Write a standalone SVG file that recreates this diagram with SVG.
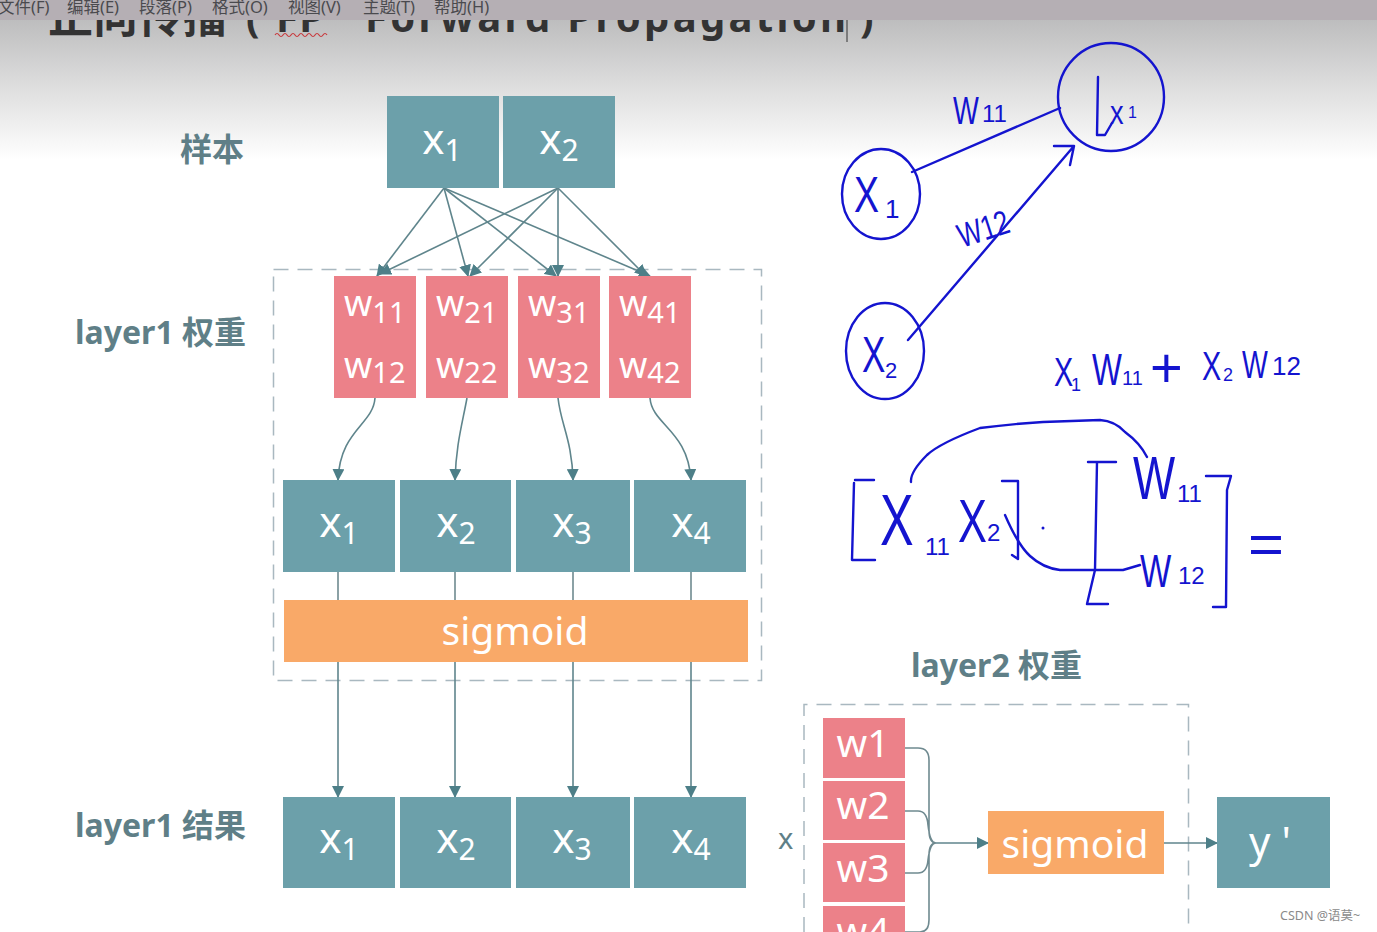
<svg xmlns="http://www.w3.org/2000/svg" width="1377" height="932" viewBox="0 0 1377 932">
<style>
text{font-family:"Noto Sans","Noto Sans CJK SC",sans-serif}
.t{fill:#6ca0aa}.p{fill:#ec8189}.o{fill:#f9a968}
.w{fill:#fff;text-anchor:middle;font-size:42px}
.w3{fill:#fff;text-anchor:middle;font-size:39px}
.w2{fill:#fff;font-size:36px}
.s{font-size:29px}
.s3{font-size:30px}
.lab{fill:#5f7f87;font-weight:700;font-size:32px}
.dash{fill:none;stroke:#a9b8c0;stroke-width:1.5;stroke-dasharray:15 9}
.c{fill:none;stroke:#6f8a90;stroke-width:1.6}
.c2{fill:none;stroke:#5f858c;stroke-width:1.6;marker-end:url(#a)}
.ink{fill:none;stroke:#1414cf;stroke-width:2.4;stroke-linecap:round;stroke-linejoin:round}
.h{fill:#1414cf;font-family:"Liberation Sans",sans-serif}
.menu{fill:#4a4a4e;font-size:16.500px}
.ti{fill:#333;font-weight:700}
</style>
<defs>
<linearGradient id="bg" x1="0" y1="0" x2="0" y2="1"><stop offset="0" stop-color="#bdbdbe"/><stop offset="0.45" stop-color="#dcdcdc"/><stop offset="1" stop-color="#fff"/></linearGradient>
<marker id="a" markerWidth="13" markerHeight="12" refX="11" refY="6" orient="auto" markerUnits="userSpaceOnUse"><path d="M0 0L12 6L0 12Z" fill="#4d7f88"/></marker>
</defs>
<rect width="1377" height="932" fill="#fff"/>
<rect y="20" width="1377" height="140" fill="url(#bg)"/>
<g id="title">
<text class="ti" x="48" y="33" font-size="45">正向传播</text>
<text class="ti" x="246" y="32" font-size="40">(</text>
<text class="ti" x="276" y="32" font-size="40" textLength="48">FP</text>
<text class="ti" x="365" y="32" font-size="40" textLength="481">Forward Propagation</text>
<text class="ti" x="860" y="32" font-size="40">)</text>
<path d="M275 35q2-3 4 0t4 0t4 0t4 0t4 0t4 0t4 0t4 0t4 0t4 0t4 0t4 0t4 0" fill="none" stroke="#c8383c" stroke-width="1.2"/>
<path d="M847 18V42" stroke="#333" stroke-width="1"/>
</g>
<g id="menubar">
<rect width="1377" height="20" fill="#b5afb4"/>
<text class="menu" x="-2" y="13">文件(F)</text><text class="menu" x="67" y="13">编辑(E)</text><text class="menu" x="139" y="13">段落(P)</text><text class="menu" x="212" y="13">格式(O)</text><text class="menu" x="288" y="13">视图(V)</text><text class="menu" x="363" y="13">主题(T)</text><text class="menu" x="434" y="13">帮助(H)</text>
</g>
<text class="lab" x="180" y="161">样本</text>
<text class="lab" x="75" y="344">layer1 权重</text>
<text class="lab" x="75" y="837">layer1 结果</text>
<text class="lab" x="911" y="677">layer2 权重</text>
<text x="778" y="849" font-size="29" fill="#5f7f87">x</text>
<rect class="dash" x="273.500" y="269.500" width="488" height="411"/>
<path class="dash" d="M804 932V704.500H1188.500V932"/>
<g id="connectors">
<path class="c2" d="M444 188L377 276"/><path class="c2" d="M444 188L468 276"/><path class="c2" d="M444 188L556 276"/><path class="c2" d="M444 188L650 276"/>
<path class="c2" d="M558 188L380 274"/><path class="c2" d="M558 188L470 276"/><path class="c2" d="M558 188V276"/><path class="c2" d="M558 188L646 276"/>
<path class="c2" d="M375 398C373 425 340 430 338 480"/><path class="c2" d="M467 398C462 425 456 445 455 480"/><path class="c2" d="M558 398C561 425 572 440 573 480"/><path class="c2" d="M650 398C652 425 688 430 691 480"/>
<path class="c" d="M338 572V600M455 572V600M573 572V600M691 572V600"/>
<path class="c2" d="M338 662V797"/><path class="c2" d="M455 662V797"/><path class="c2" d="M573 662V797"/><path class="c2" d="M691 662V797"/>
<path class="c" d="M905 748H918Q929 748 929 760V830Q929 843 936 843M905 811H918Q927 811 928 825Q930 843 936 843M905 873H918Q927 873 928 860Q930 843 936 843M905 932H920Q929 932 929 920V855Q929 843 936 843"/>
<path class="c2" d="M936 843H988"/><path class="c2" d="M1164 843H1217"/>
</g>
<g id="n-x1"><rect class="t" x="387" y="96" width="112" height="92"/><text class="w" x="442" y="154">x<tspan class="s3" dy="7">1</tspan></text></g>
<g id="n-x2"><rect class="t" x="503" y="96" width="112" height="92"/><text class="w" x="559" y="154">x<tspan class="s3" dy="7">2</tspan></text></g>
<g id="w1"><rect class="p" x="334" y="276" width="82" height="122"/><text class="w2" x="344" y="316">w<tspan class="s" dy="7">11</tspan></text><text class="w2" x="344" y="378">w<tspan class="s" dy="5">12</tspan></text></g>
<g id="w2"><rect class="p" x="426" y="276" width="82" height="122"/><text class="w2" x="436" y="316">w<tspan class="s" dy="7">21</tspan></text><text class="w2" x="436" y="378">w<tspan class="s" dy="5">22</tspan></text></g>
<g id="w3"><rect class="p" x="518" y="276" width="82" height="122"/><text class="w2" x="528" y="316">w<tspan class="s" dy="7">31</tspan></text><text class="w2" x="528" y="378">w<tspan class="s" dy="5">32</tspan></text></g>
<g id="w4"><rect class="p" x="609" y="276" width="82" height="122"/><text class="w2" x="619" y="316">w<tspan class="s" dy="7">41</tspan></text><text class="w2" x="619" y="378">w<tspan class="s" dy="5">42</tspan></text></g>
<g id="h1"><rect class="t" x="283" y="480" width="112" height="92"/><text class="w" x="339" y="537">x<tspan class="s3" dy="7">1</tspan></text></g>
<g id="h2"><rect class="t" x="400" y="480" width="111" height="92"/><text class="w" x="456" y="537">x<tspan class="s3" dy="7">2</tspan></text></g>
<g id="h3"><rect class="t" x="516" y="480" width="114" height="92"/><text class="w" x="572" y="537">x<tspan class="s3" dy="7">3</tspan></text></g>
<g id="h4"><rect class="t" x="634" y="480" width="112" height="92"/><text class="w" x="691" y="537">x<tspan class="s3" dy="7">4</tspan></text></g>
<g id="sig1"><rect class="o" x="284" y="600" width="464" height="62"/><text class="w3" x="515" y="645">sigmoid</text></g>
<g id="r1"><rect class="t" x="283" y="797" width="112" height="91"/><text class="w" x="339" y="853">x<tspan class="s3" dy="7">1</tspan></text></g>
<g id="r2"><rect class="t" x="400" y="797" width="111" height="91"/><text class="w" x="456" y="853">x<tspan class="s3" dy="7">2</tspan></text></g>
<g id="r3"><rect class="t" x="516" y="797" width="114" height="91"/><text class="w" x="572" y="853">x<tspan class="s3" dy="7">3</tspan></text></g>
<g id="r4"><rect class="t" x="634" y="797" width="112" height="91"/><text class="w" x="691" y="853">x<tspan class="s3" dy="7">4</tspan></text></g>
<g id="l2w1"><rect class="p" x="823" y="718" width="82" height="60"/><text class="w3" x="863" y="757">w1</text></g>
<g id="l2w2"><rect class="p" x="823" y="781" width="82" height="59"/><text class="w3" x="863" y="819">w2</text></g>
<g id="l2w3"><rect class="p" x="823" y="843" width="82" height="59"/><text class="w3" x="863" y="882">w3</text></g>
<g id="l2w4"><rect class="p" x="823" y="906" width="82" height="26"/><text class="w3" x="863" y="945">w4</text></g>
<g id="sig2"><rect class="o" x="988" y="811" width="176" height="63"/><text class="w3" x="1075" y="858">sigmoid</text></g>
<g id="yp"><rect class="t" x="1217" y="797" width="113" height="91"/><text class="w" x="1270" y="857">y '</text></g>
<g id="hand">
<ellipse class="ink" cx="1111" cy="97" rx="53" ry="54"/>
<ellipse class="ink" cx="881" cy="194" rx="39" ry="45"/>
<ellipse class="ink" cx="885" cy="351" rx="39" ry="48"/>
<path class="ink" d="M912 172L1060 108M908 340L1074 146M1054 146H1074L1070 165"/>
<path class="ink" d="M1098 77L1097 135H1105L1112 123"/>
<path class="ink" d="M855 480H874M854 483L852 560H875M1002 481H1018L1018 559L1012 555"/>
<path class="ink" d="M1088 462H1116M1097 462L1095 570L1087 604H1108M1206 476H1231L1227 490L1226 607H1213"/>
<path class="ink" d="M911 482Q910 472 927 455Q940 443 980 428Q1010 424 1043 422L1100 420Q1115 421 1125 432Q1140 443 1147 457"/>
<path class="ink" d="M1005 515Q1018 545 1030 556Q1043 568 1060 570H1123L1140 565"/>
<circle cx="1043" cy="528" r="1.500" fill="#1414cf"/>
<text class="h" font-size="50" transform="translate(854 212) scale(.75 1)">X</text><text class="h" font-size="26" x="885" y="218">1</text>
<text class="h" font-size="50" transform="translate(862 372) scale(.7 1)">X</text><text class="h" font-size="22" x="885" y="378">2</text>
<text class="h" font-size="34" transform="translate(1110 124) scale(.8 1)">x</text><text class="h" font-size="16" x="1128" y="118">1</text>
<text class="h" font-size="38" transform="translate(953 124) scale(.72 1)">W</text><text class="h" font-size="24" x="982" y="122">11</text>
<text class="h" font-size="34" transform="rotate(-18 962 248) translate(962 248) scale(.75 1)">W12</text>
<text class="h" font-size="40" transform="translate(1054 386) scale(.72 1)">X</text><text class="h" font-size="18" x="1071" y="391">1</text>
<text class="h" font-size="44" transform="translate(1092 385) scale(.72 1)">W</text><text class="h" font-size="20" x="1122" y="385">11</text>
<text class="h" font-size="56" x="1150" y="387">+</text>
<text class="h" font-size="40" transform="translate(1202 380) scale(.72 1)">X</text><text class="h" font-size="18" x="1223" y="381">2</text>
<text class="h" font-size="38" transform="translate(1242 378) scale(.72 1)">W</text><text class="h" font-size="26" x="1272" y="375">12</text>
<text class="h" font-size="72" transform="translate(880 545) scale(.7 1)">X</text><text class="h" font-size="24" x="925" y="555">11</text>
<text class="h" font-size="62" transform="translate(958 542) scale(.7 1)">X</text><text class="h" font-size="24" x="987" y="541">2</text>
<text class="h" font-size="62" transform="translate(1133 499) scale(.72 1)">W</text><text class="h" font-size="24" x="1177" y="502">11</text>
<text class="h" font-size="46" transform="translate(1140 587) scale(.72 1)">W</text><text class="h" font-size="24" x="1178" y="584">12</text>
<text class="h" font-size="56" transform="translate(1248 563) scale(1.1 1)">=</text>
</g>
<text x="1280" y="920" font-size="12.500" fill="#8a8a8a">CSDN @语莫~</text>
</svg>
